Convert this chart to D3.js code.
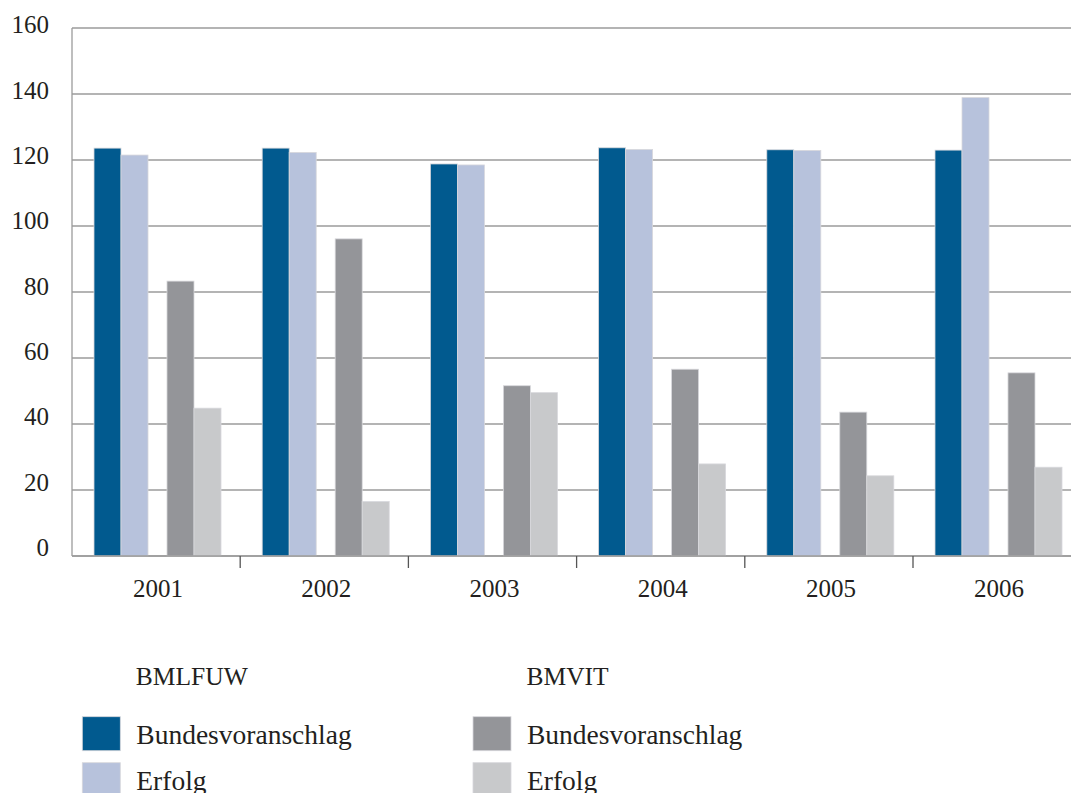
<!DOCTYPE html>
<html>
<head>
<meta charset="utf-8">
<script src="https://cdn.jsdelivr.net/npm/d3@7"></script>
<style>
  html, body { margin: 0; padding: 0; background: #fff; }
  svg { display: block; }
  text { font-family: "Liberation Serif", "Times New Roman", serif; fill: #231f20; }
</style>
</head>
<body>
<svg id="chart" width="1071" height="793"></svg>
<script>
// ---- data ----
const years = ["2001", "2002", "2003", "2004", "2005", "2006"];
const ministries = ["BMLFUW", "BMVIT"];
const kinds = ["Bundesvoranschlag", "Erfolg"];
const bmlfuwBundesvoranschlag = [123.6, 123.6, 118.8, 123.7, 123.1, 123.0];
const bmlfuwErfolg            = [121.5, 122.3, 118.5, 123.2, 122.9, 138.9];
const bmvitBundesvoranschlag  = [83.3, 96.1, 51.6, 56.6, 43.6, 55.5];
const bmvitErfolg             = [44.8, 16.5, 49.5, 27.9, 24.3, 26.9];
const yTicks = [0, 20, 40, 60, 80, 100, 120, 140, 160];

const seriesValues = {
  "BMLFUW|Bundesvoranschlag": bmlfuwBundesvoranschlag,
  "BMLFUW|Erfolg": bmlfuwErfolg,
  "BMVIT|Bundesvoranschlag": bmvitBundesvoranschlag,
  "BMVIT|Erfolg": bmvitErfolg
};
const colors = {
  "BMLFUW|Bundesvoranschlag": "#015a8f",
  "BMLFUW|Erfolg": "#b7c2dc",
  "BMVIT|Bundesvoranschlag": "#949599",
  "BMVIT|Erfolg": "#c8c9cb"
};

// ---- layout ----
const svg = d3.select("#chart");
const plotLeft = 72, plotTop = 28, plotBottom = 556, groupStep = 168.2;
const x0 = d3.scaleBand().domain(years).range([plotLeft, plotLeft + groupStep * years.length]).padding(0);
const x1 = d3.scaleBand().domain(ministries).range([22, 149]).paddingInner(0.26).paddingOuter(0);
const x2 = d3.scaleBand().domain(kinds).range([0, x1.bandwidth()]).padding(0);
const y = d3.scaleLinear().domain([0, 160]).range([plotBottom, plotTop]);
const yLabel = d3.scaleLinear().domain([0, 160]).range([plotBottom, 33.3]);

// gridlines
svg.append("g").selectAll("line").data(yTicks).join("line")
  .attr("x1", plotLeft).attr("x2", 1071)
  .attr("y1", d => y(d)).attr("y2", d => y(d))
  .attr("stroke", "#9b9b9b").attr("stroke-width", 1.3);

// left axis line
svg.append("line").attr("x1", plotLeft).attr("x2", plotLeft)
  .attr("y1", y(160)).attr("y2", y(0))
  .attr("stroke", "#9b9b9b").attr("stroke-width", 1.3);

// y labels
svg.append("g").selectAll("text").data(yTicks).join("text")
  .attr("x", 49).attr("y", d => yLabel(d))
  .attr("text-anchor", "end").attr("font-size", 25)
  .text(d => d);

// bars
const barData = [];
years.forEach((yr, i) => {
  ministries.forEach(m => {
    kinds.forEach(k => {
      const key = m + "|" + k;
      barData.push({ year: yr, m, k, key, v: seriesValues[key][i] });
    });
  });
});
svg.append("g").selectAll("rect").data(barData).join("rect")
  .attr("x", d => x0(d.year) + x1(d.m) + x2(d.k))
  .attr("width", x2.bandwidth())
  .attr("y", d => y(d.v))
  .attr("height", d => y(0) - y(d.v))
  .attr("fill", d => colors[d.key])
  .attr("stroke", "#d8d8dc").attr("stroke-width", 0.8);

// bottom baseline over bars
svg.append("line").attr("x1", plotLeft).attr("x2", 1071)
  .attr("y1", y(0)).attr("y2", y(0))
  .attr("stroke", "#9b9b9b").attr("stroke-width", 1.3);

// group separator ticks
svg.append("g").selectAll("line").data(years.slice(1)).join("line")
  .attr("x1", d => x0(d)).attr("x2", d => x0(d))
  .attr("y1", y(0)).attr("y2", y(0) + 12)
  .attr("stroke", "#555").attr("stroke-width", 1.3);

// x labels
svg.append("g").selectAll("text").data(years).join("text")
  .attr("x", d => x0(d) + x0.bandwidth() / 2 + 2)
  .attr("y", 597.3)
  .attr("text-anchor", "middle").attr("font-size", 25)
  .text(d => d);

// legend
const legX = d3.scaleOrdinal().domain(ministries).range([82.3, 473]);
const legRowY = d3.scaleOrdinal().domain(kinds).range([716.7, 762.7]);
const legend = svg.append("g");
ministries.forEach(m => {
  legend.append("text")
    .attr("x", legX(m) + 53.5).attr("y", 685)
    .attr("font-size", 25.5)
    .text(m);
  kinds.forEach(k => {
    legend.append("rect")
      .attr("x", legX(m)).attr("y", legRowY(k))
      .attr("width", 38).attr("height", 34)
      .attr("fill", colors[m + "|" + k])
      .attr("stroke", "#d8d8dc").attr("stroke-width", 0.8);
    legend.append("text")
      .attr("x", legX(m) + 54).attr("y", legRowY(k) + 27.6)
      .attr("font-size", 27.5)
      .text(k);
  });
});
</script>
</body>
</html>
